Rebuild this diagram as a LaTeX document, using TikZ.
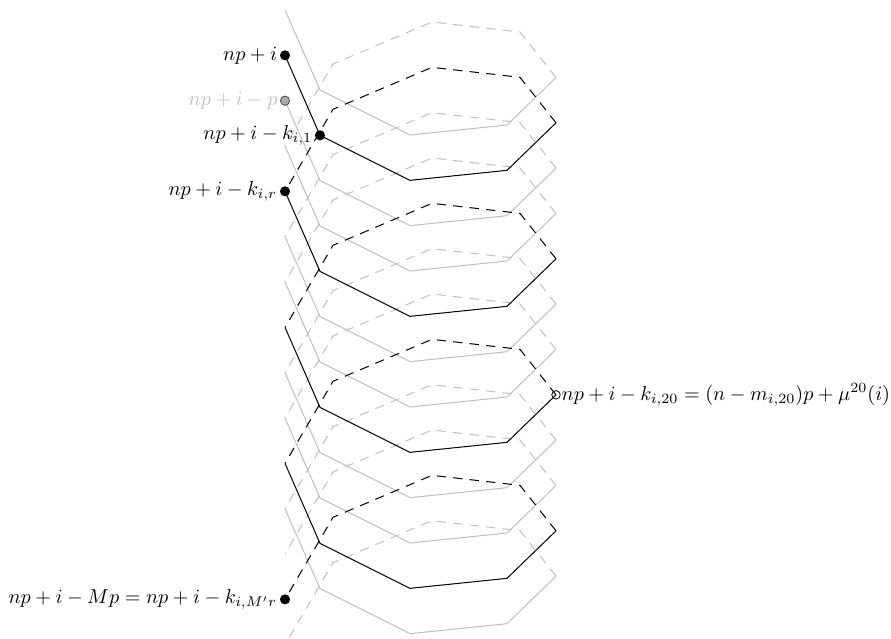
\documentclass[tikz,border=0pt]{standalone}
\begin{document}
\begin{tikzpicture}[x=0.495pt,y=-0.495pt,
  front/.style={line width=0.5pt, line join=round},
  back/.style={line width=0.5pt, line join=round, dash pattern=on 4.6pt off 3.6pt},
  faint/.style={draw=black!25},
  dot/.style={circle, fill=black, inner sep=0pt, minimum size=5pt},
  greydot/.style={circle, fill=black!33, draw=black!70, line width=0.4pt, inner sep=0pt, minimum size=4.6pt},
  opendot/.style={circle, draw=black, line width=0.4pt, inner sep=0pt, minimum size=4.2pt},
  lbl/.style={inner sep=1pt}]
\useasboundingbox (0,0) rectangle (891,638);

% one turn of the helix, starting at the left point (285,#1):
% solid front half, then dashed back half ending one period lower
\newcommand\helixturn[2]{%
  \draw[front,#2] (285,#1) -- (320,#1+80) -- (410,#1+125) -- (507,#1+115) -- (556,#1+67.5);
  \draw[back,#2] (556,#1+67.5) -- (520,#1+22) -- (432,#1+12) -- (333,#1+54) -- (285,#1+136);
}

% the two grey strands
\foreach \k in {0,1,2,3} {
  \pgfmathsetmacro\ya{10+136*\k}
  \helixturn{\ya}{faint}
  \pgfmathsetmacro\yb{100.67+136*\k}
  \helixturn{\yb}{faint}
}

% the black strand
\foreach \k in {0,1,2,3} {
  \pgfmathsetmacro\yc{55.33+136*\k}
  \helixturn{\yc}{black}
}

% marked points
\node[greydot] (p) at (285,100.67) {};
\node[dot] (a) at (285,55.33) {};
\node[dot] (k1) at (320,135.33) {};
\node[dot] (kr) at (285,191.33) {};
\node[dot] (kM) at (285,599.33) {};
\node[opendot] (k20) at (556,394.83) {};

\node[lbl, anchor=east] at (a.west) {$np+i$};
\node[lbl, anchor=east, text=black!25] at (p.west) {$np+i-p$};
\node[lbl, anchor=east] at (k1.west) {$np+i-k_{i,1}$};
\node[lbl, anchor=east] at (kr.west) {$np+i-k_{i,r}$};
\node[lbl, anchor=east] at (kM.west) {$np+i-Mp=np+i-k_{i,M'r}$};
\node[lbl, anchor=west, inner sep=0.3pt] at (k20.east) {$np+i-k_{i,20}=(n-m_{i,20})p+\mu^{20}(i)$};
\end{tikzpicture}
\end{document}
